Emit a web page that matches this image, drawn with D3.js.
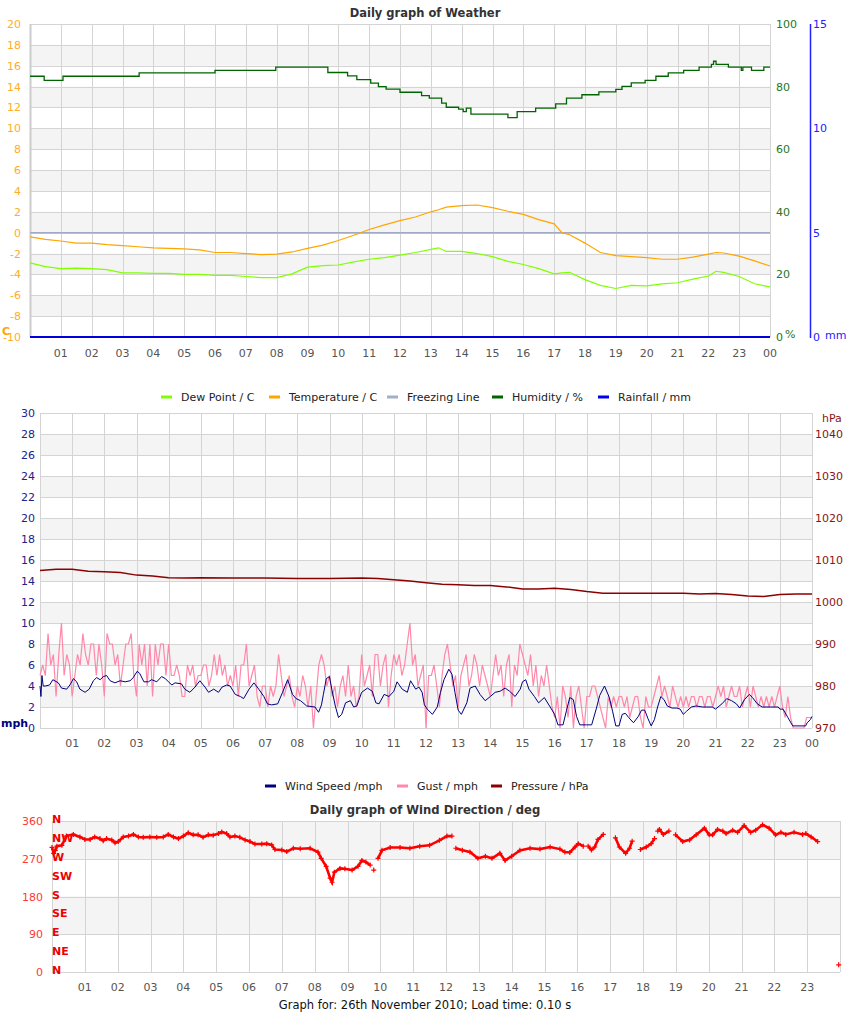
<!DOCTYPE html>
<html><head><meta charset="utf-8">
<script src="https://cdn.jsdelivr.net/npm/d3@7"></script>
<style>body{margin:0;background:#fff}svg{display:block}text{font-family:"DejaVu Sans",sans-serif}</style>
</head><body><svg id="c" width="850" height="1017"></svg>
<script>
// ---------------- DATA ----------------
const hourLabels = ["01","02","03","04","05","06","07","08","09","10","11","12","13","14","15","16","17","18","19","20","21","22","23","00"];
const tempTicks = [20,18,16,14,12,10,8,6,4,2,0,-2,-4,-6,-8,-10];
const humTicks = [100,80,60,40,20,0];
const rainTicks = [15,10,5,0];
const windTicks = [30,28,26,24,22,20,18,16,14,12,10,8,6,4,2,0];
const pressTicks = [1040,1030,1020,1010,1000,990,980,970];
const dirTicks = [360,270,180,90,0];
const compass = ["N","NW","W","SW","S","SE","E","NE","N"];
const compassDeg = [360,315,270,225,180,135,90,45,0];

const tdHours = [0,0.5,1,1.5,2,2.5,3,3.5,4,4.5,5,5.5,6,6.5,7,7.5,8,8.5,9,9.5,10,10.5,11,11.5,12,12.5,13,13.25,13.5,14,14.5,15,15.5,16,16.5,17,17.25,17.5,18,18.5,19,19.5,20,20.5,21,21.5,22,22.25,22.5,23,23.5,24];
const temperature = [-0.4,-0.65,-0.8,-1.0,-1.0,-1.15,-1.25,-1.35,-1.45,-1.5,-1.55,-1.65,-1.9,-1.9,-2.0,-2.1,-2.05,-1.85,-1.5,-1.2,-0.75,-0.25,0.3,0.75,1.15,1.5,2.0,2.2,2.45,2.6,2.65,2.4,2.05,1.75,1.25,0.85,0.0,-0.2,-1.0,-1.9,-2.2,-2.3,-2.4,-2.55,-2.55,-2.35,-2.05,-1.9,-1.95,-2.25,-2.7,-3.2];
const dewPoint = [-2.9,-3.25,-3.45,-3.4,-3.45,-3.55,-3.85,-3.85,-3.9,-3.9,-4.0,-4.0,-4.1,-4.1,-4.2,-4.3,-4.3,-3.95,-3.3,-3.15,-3.1,-2.8,-2.55,-2.4,-2.15,-1.9,-1.6,-1.45,-1.8,-1.8,-2.0,-2.3,-2.75,-3.05,-3.45,-3.95,-3.85,-3.8,-4.5,-5.05,-5.35,-5.05,-5.1,-4.9,-4.8,-4.45,-4.15,-3.7,-3.8,-4.2,-4.9,-5.2];

const humHours = [0,0.46,1.07,3.54,6.0,7.97,9.66,10.3,10.6,11.05,11.3,11.55,12.0,12.7,12.95,13.35,13.5,13.9,14.05,14.15,14.3,15.5,15.8,16.4,17.05,17.4,17.9,18.45,19.0,19.2,19.5,19.95,20.3,20.7,21.2,21.7,22.1,22.17,22.25,22.65,23.07,23.12,23.4,23.8,24];
const humidity = [83.3,82.0,83.3,84.4,85.2,86.2,84.5,83.4,82.2,81.1,80.0,79.2,78.2,77.1,76.3,74.7,73.4,72.8,72.0,73.1,71.2,70.1,72.0,73.1,74.5,76.3,77.4,78.3,79.1,80.1,81.2,82.0,83.3,84.4,85.2,86.2,87.1,88.1,87.1,86.2,85.2,86.2,85.2,86.2,86.2];

const rainHours = [0,24];
const rainfall = [0,0];

const windHours = [0,0.03,0.06,0.1,0.16,0.3,0.4,0.57,0.67,0.83,0.93,1.04,1.14,1.24,1.4,1.53,1.66,1.76,1.87,1.97,2.07,2.18,2.33,2.49,2.65,2.8,2.9,3.02,3.1,3.23,3.37,3.47,3.63,3.78,3.9,3.99,4.1,4.2,4.4,4.5,4.66,4.82,4.97,5.13,5.24,5.4,5.55,5.66,5.81,5.91,6.07,6.23,6.33,6.5,6.65,6.8,6.96,7.07,7.2,7.39,7.54,7.7,7.85,7.96,8.1,8.29,8.55,8.66,8.75,8.81,8.9,9.0,9.07,9.18,9.28,9.38,9.5,9.65,9.75,9.85,10.0,10.18,10.33,10.44,10.54,10.7,10.85,11.0,11.1,11.26,11.42,11.52,11.68,11.78,11.88,11.95,12.04,12.2,12.35,12.45,12.56,12.71,12.81,12.9,13.0,13.1,13.27,13.37,13.53,13.68,13.84,14.0,14.15,14.3,14.46,14.6,14.77,14.93,15.0,15.1,15.2,15.37,15.5,15.68,15.84,16.0,16.1,16.26,16.37,16.47,16.58,16.68,16.78,16.99,17.15,17.3,17.4,17.55,17.7,17.8,17.9,18.0,18.1,18.2,18.3,18.45,18.6,18.7,18.8,18.9,19.0,19.1,19.2,19.3,19.4,19.5,19.65,19.8,19.9,20.0,20.1,20.25,20.4,20.6,20.9,21.0,21.2,21.35,21.5,21.65,21.75,21.9,22.05,22.15,22.3,22.45,22.7,22.95,23.0,23.1,23.25,23.4,23.8,23.85,23.95,24.0];
const windSpeed = [4.0,3.0,5.0,4.0,4.0,4.1,4.6,4.3,3.8,3.7,4.1,4.7,4.4,3.7,3.4,3.7,4.5,4.8,4.6,4.9,5.0,4.5,4.3,4.5,4.4,4.5,4.8,5.4,5.2,4.4,4.4,4.6,4.4,4.9,4.7,4.4,4.1,4.3,4.2,3.7,3.4,3.9,4.5,3.9,3.4,3.7,3.4,3.9,4.1,4.0,3.2,3.0,2.8,3.7,4.3,3.7,3.0,2.3,2.2,2.3,3.4,4.6,3.2,2.8,2.6,2.1,2.0,1.5,2.2,3.2,4.7,4.9,3.7,2.1,1.0,1.3,2.4,2.6,2.0,2.1,3.4,3.8,3.5,2.4,2.3,3.2,3.0,3.5,4.4,3.7,3.4,4.5,3.7,3.9,3.4,2.2,1.8,1.3,2.0,3.4,4.6,5.6,5.1,3.4,1.7,1.3,2.4,3.8,4.0,3.2,2.6,3.0,3.4,3.5,3.8,3.5,3.0,3.7,4.4,4.6,3.7,3.0,2.4,2.9,2.1,1.3,0.3,0.3,1.7,2.9,2.7,1.1,0.3,0.3,0.3,1.9,3.1,4.0,2.9,1.6,0.2,0.2,1.3,1.4,1.0,0.5,1.1,1.7,1.7,0.9,0.2,0.8,2.0,3.0,2.7,2.1,1.9,1.9,1.8,1.3,1.6,2.0,2.1,2.0,2.0,1.8,2.3,2.8,2.6,2.3,1.9,2.7,3.2,2.9,2.3,2.0,2.0,2.0,1.8,1.8,1.0,0.2,0.2,0.5,0.8,1.1];

// gust, one value every 5 minutes (12 per hour)
const gust = [
 5,6,5,9,6,7,3,7,10,5,7,6,
 3,5,7,6,9,7,6,8,8,5,8,6,
 3,9,8,8,6,7,4,6,8,8,9,5,
 3,8,6,8,4,8,3,8,6,8,8,5,
 8,5,5,6,5,3,3,6,5,6,4,5,
 5,6,6,4,5,7,5,7,5,6,4,5,
 4,6,3,6,6,8,4,5,6,3,2,4,
 4,2,4,3,4,7,5,3,4,5,3,2,
 4,3,5,4,2,4,0,3,6,7,6,4,
 5,3,4,2,4,5,3,6,3,4,2,3,
 7,4,5,6,3,7,7,4,6,7,2,5,
 7,6,7,5,6,8,10,6,7,4,5,6,
 0,5,5,6,4,2,5,7,8,6,4,5,
 2,5,6,7,4,5,7,6,4,6,5,4,
 3,5,7,5,6,3,6,7,2,6,5,8,
 7,6,5,7,4,6,3,5,4,6,4,2,
 1,3,0,4,3,1,4,0,3,4,2,0,
 3,3,4,4,3,2,1,0,3,2,3,2,
 3,3,2,3,1,2,3,3,1,0,3,2,
 2,3,4,5,3,4,3,2,4,3,2,3,
 2,3,2,3,3,2,3,3,2,3,3,2,
 3,4,3,4,2,3,4,3,3,4,2,3,
 4,2,4,3,2,3,2,3,2,3,2,3,
 4,2,1,3,1,0,0,0,0,0,1,1,
 1];

const pressHours = [0,0.5,1,1.5,2,2.5,3,3.5,4,4.5,5,6,7,8,9,10,10.5,11,11.5,12,12.5,13,13.5,14,14.5,15,15.5,16,16.5,17,17.5,18,19,20,20.5,21,21.5,22,22.5,23,23.5,24];
const pressure = [1007.5,1007.8,1007.8,1007.3,1007.2,1007.0,1006.4,1006.2,1005.8,1005.7,1005.8,1005.7,1005.7,1005.6,1005.6,1005.7,1005.6,1005.3,1005.0,1004.6,1004.2,1004.1,1003.9,1003.9,1003.6,1003.1,1003.1,1003.3,1003.0,1002.5,1002.1,1002.1,1002.1,1002.1,1001.9,1002.0,1001.8,1001.4,1001.3,1001.8,1001.9,1001.9];

// wind direction (null = no reading)
const dirHours = [0,0.05,0.1,0.15,0.3,0.44,0.65,0.85,1.0,1.16,1.3,1.46,1.56,1.66,1.82,1.92,2.02,2.17,2.33,2.48,2.63,2.78,2.98,3.19,3.39,3.54,3.7,3.85,4.0,4.15,4.3,4.45,4.6,4.76,4.91,5.07,5.17,5.32,5.42,5.57,5.72,5.88,6.03,6.18,6.39,6.54,6.69,6.79,7.0,7.15,7.35,7.56,7.86,8.1,8.2,8.35,8.47,8.53,8.6,8.77,8.92,9.14,9.32,9.44,9.56,9.69,9.75,9.8,9.86,9.93,10.05,10.3,10.6,10.9,11.2,11.5,11.8,12.03,12.18,12.24,12.3,12.5,12.73,12.97,13.2,13.4,13.64,13.8,14.0,14.25,14.56,14.86,15.17,15.47,15.62,15.77,15.93,16.03,16.18,16.25,16.33,16.43,16.53,16.63,16.79,17.0,17.16,17.28,17.47,17.59,17.67,17.8,17.92,18.1,18.25,18.35,18.4,18.45,18.5,18.62,18.79,18.9,18.99,19.21,19.42,19.62,19.87,20.02,20.12,20.27,20.43,20.53,20.73,20.88,21.08,21.28,21.43,21.64,21.84,22.04,22.2,22.35,22.6,22.86,22.96,23.12,23.32,23.6,23.96];
const direction = [297,283,290,300,302,324,328,322,316,316,322,318,313,318,315,308,311,322,324,328,322,321,322,321,322,328,322,318,324,332,327,327,321,327,326,330,334,330,322,324,321,315,311,305,305,306,303,292,291,287,295,294,295,286,271,252,224,214,238,247,246,243,252,266,262,255,null,243,null,271,290,297,297,295,300,302,314,324,324,null,295,290,286,271,276,271,283,266,276,290,295,293,298,293,286,285,298,306,300,null,300,291,298,316,328,null,320,298,283,295,312,null,292,298,306,318,null,336,340,328,336,null,327,311,315,327,343,327,327,340,336,330,338,333,349,333,338,351,343,327,333,328,333,328,330,322,311,null,17];

// ---------------- DRAW ----------------
const svg = d3.select("#c");
svg.append("rect").attr("width",850).attr("height",1017).attr("fill","#fff");
const GRID = "#d4d4d4", BAND = "#f4f4f4", XLAB = "#555";
const MONO = "'DejaVu Sans Mono', monospace";

function panel(x, y, ticks, grayOdd) {
  const g = svg.append("g");
  for (let i = 0; i < ticks.length - 1; i++) {
    if ((i % 2 === 1) === grayOdd) {
      g.append("rect").attr("x", x.range()[0]).attr("width", x.range()[1]-x.range()[0])
        .attr("y", y(ticks[i])).attr("height", y(ticks[i+1]) - y(ticks[i])).attr("fill", BAND);
    }
  }
  ticks.forEach(t => g.append("line").attr("x1", x.range()[0]).attr("x2", x.range()[1])
    .attr("y1", Math.round(y(t))+0.5).attr("y2", Math.round(y(t))+0.5).attr("stroke", GRID));
  d3.range(0, 25).forEach(h => g.append("line").attr("x1", Math.round(x(h))+0.5).attr("x2", Math.round(x(h))+0.5)
    .attr("y1", y.range()[1]).attr("y2", y.range()[0]).attr("stroke", GRID));
  return g;
}
function xLabels(x, yb, labels) {
  labels.forEach((l, i) => svg.append("text").attr("x", x(i+1)).attr("y", yb)
    .attr("text-anchor", "middle").attr("font-size", 11).attr("fill", XLAB).text(l));
}
function legend(items, yb) {
  items.forEach(it => {
    svg.append("line").attr("x1", it.x).attr("x2", it.x + 11).attr("y1", yb - 4).attr("y2", yb - 4)
      .attr("stroke", it.c).attr("stroke-width", 3);
    svg.append("text").attr("x", it.x + 20).attr("y", yb).attr("font-size", 11).attr("fill", "#222").text(it.t);
  });
}

// ===== Chart 1: weather =====
const x1 = d3.scaleLinear([0,24],[30,770]);
const yT = d3.scaleLinear([-10,20],[337,24]);
const yH = d3.scaleLinear([0,100],[337,24]);
const yR = d3.scaleLinear([0,15],[337,24]);
svg.append("text").attr("x",425).attr("y",17).attr("text-anchor","middle").attr("font-family",MONO)
  .attr("font-weight","bold").attr("font-size",11.5).attr("fill","#333").text("Daily graph of Weather");
panel(x1, yT, tempTicks, true);
svg.append("line").attr("x1",30.5).attr("x2",30.5).attr("y1",24).attr("y2",337).attr("stroke","#ccc").attr("stroke-width",2);

tempTicks.forEach(t => svg.append("text").attr("x",21).attr("y",yT(t)+4).attr("text-anchor","end")
  .attr("font-size",11).attr("fill","#ffad2a").text(t));
svg.append("text").attr("x",2).attr("y",335).attr("font-family",MONO).attr("font-weight","bold")
  .attr("font-size",11).attr("fill","#ffa500").text("C");
humTicks.forEach(t => svg.append("text").attr("x",776).attr("y",yH(t)+4)
  .attr("font-size",11).attr("fill","#227722").text(t));
svg.append("text").attr("x",785).attr("y",338).attr("font-size",11).attr("fill","#227722").text("%");
svg.append("line").attr("x1",810.5).attr("x2",810.5).attr("y1",24).attr("y2",338).attr("stroke","#2222ff").attr("stroke-width",1.5);
rainTicks.forEach(t => svg.append("text").attr("x",813).attr("y",yR(t)+4)
  .attr("font-size",11).attr("fill","#2222ff").text(t));
svg.append("text").attr("x",825).attr("y",339).attr("font-size",11).attr("fill","#2222ff").text("mm");
xLabels(x1, 357, hourLabels);

// freezing line
svg.append("line").attr("x1",x1(0)).attr("x2",x1(24)).attr("y1",yT(0)).attr("y2",yT(0))
  .attr("stroke","#a0aac4").attr("stroke-width",1.5);
const lineT = d3.line().x(d => x1(d[0])).y(d => yT(d[1]));
svg.append("path").attr("d", lineT(d3.zip(tdHours, dewPoint))).attr("fill","none").attr("stroke","#80ff00").attr("stroke-width",1.2);
svg.append("path").attr("d", lineT(d3.zip(tdHours, temperature))).attr("fill","none").attr("stroke","#ffa500").attr("stroke-width",1.2);
const lineH = d3.line().x(d => x1(d[0])).y(d => yH(d[1])).curve(d3.curveStepAfter);
svg.append("path").attr("d", lineH(d3.zip(humHours, humidity))).attr("fill","none").attr("stroke","#006400").attr("stroke-width",1.3);
const lineR = d3.line().x(d => x1(d[0])).y(d => yR(d[1]));
svg.append("path").attr("d", lineR(d3.zip(rainHours, rainfall))).attr("fill","none").attr("stroke","#0000dd").attr("stroke-width",2);

legend([
  {x:161, c:"#80ff00", t:"Dew Point / C"},
  {x:269, c:"#ffa500", t:"Temperature / C"},
  {x:387, c:"#a0b0c8", t:"Freezing Line"},
  {x:492, c:"#006400", t:"Humidity / %"},
  {x:598, c:"#0000ee", t:"Rainfall / mm"}
], 401);

// ===== Chart 2: wind / pressure =====
const x2 = d3.scaleLinear([0,24],[40,812]);
const yW = d3.scaleLinear([0,30],[728,413]);
const yP = d3.scaleLinear([970,1045],[728,413]);
panel(x2, yW, windTicks, true);
windTicks.forEach(t => svg.append("text").attr("x",35).attr("y",yW(t)+4).attr("text-anchor","end")
  .attr("font-size",11).attr("fill","#22228a").text(t));
svg.append("text").attr("x",1).attr("y",727).attr("font-family",MONO).attr("font-weight","bold")
  .attr("font-size",11).attr("fill","#000080").text("mph");
pressTicks.forEach(t => svg.append("text").attr("x",815).attr("y",yP(t)+4)
  .attr("font-size",11).attr("fill","#8b1414").text(t));
svg.append("text").attr("x",822).attr("y",422).attr("font-size",11).attr("fill","#8b1414").text("hPa");
xLabels(x2, 747, hourLabels);

const gustHours = gust.map((_, i) => i / 12);
const lineW = d3.line().x(d => x2(d[0])).y(d => yW(d[1]));
svg.append("path").attr("d", lineW(d3.zip(gustHours, gust))).attr("fill","none").attr("stroke","#ff88aa").attr("stroke-width",1.2);
svg.append("path").attr("d", lineW(d3.zip(windHours, windSpeed))).attr("fill","none").attr("stroke","#000080").attr("stroke-width",1);
const lineP = d3.line().x(d => x2(d[0])).y(d => yP(d[1]));
svg.append("path").attr("d", lineP(d3.zip(pressHours, pressure))).attr("fill","none").attr("stroke","#8b0000").attr("stroke-width",1.5);

legend([
  {x:265, c:"#000080", t:"Wind Speed /mph"},
  {x:397, c:"#ff88aa", t:"Gust / mph"},
  {x:491, c:"#8b0000", t:"Pressure / hPa"}
], 790);

// ===== Chart 3: wind direction =====
svg.append("text").attr("x",425).attr("y",814).attr("text-anchor","middle").attr("font-family",MONO)
  .attr("font-weight","bold").attr("font-size",11.6).attr("fill","#333").text("Daily graph of Wind Direction / deg");
const x3 = d3.scaleLinear([0,24],[52,840]);
const yD = d3.scaleLinear([0,360],[972,821]);
panel(x3, yD, dirTicks, false);
dirTicks.forEach(t => svg.append("text").attr("x",43).attr("y",yD(t)+4).attr("text-anchor","end")
  .attr("font-size",11).attr("fill","#ff3838").text(t));
compass.forEach((c, i) => svg.append("text").attr("x",52).attr("y",yD(compassDeg[i])+2)
  .attr("font-family",MONO).attr("font-weight","bold").attr("font-size",11).attr("fill","#ee0000").text(c));
xLabels(x3, 991, hourLabels.slice(0,23));

const dirPts = d3.zip(dirHours, direction);
const lineD = d3.line().defined(d => d[1] !== null).x(d => x3(d[0])).y(d => yD(d[1]));
svg.append("path").attr("d", lineD(dirPts)).attr("fill","none").attr("stroke","#ff0000").attr("stroke-width",2.6);
svg.append("g").selectAll("path").data(dirPts.filter(d => d[1] !== null)).join("path")
  .attr("d", d => { const px = x3(d[0]), py = yD(d[1]); return `M${px-2.5},${py}H${px+2.5}M${px},${py-2.5}V${py+2.5}`; })
  .attr("stroke","#ff0000").attr("stroke-width",1.2);

svg.append("text").attr("x",425).attr("y",1009).attr("text-anchor","middle").attr("font-size",11.5)
  .attr("fill","#111").text("Graph for: 26th November 2010; Load time: 0.10 s");
</script></body></html>
